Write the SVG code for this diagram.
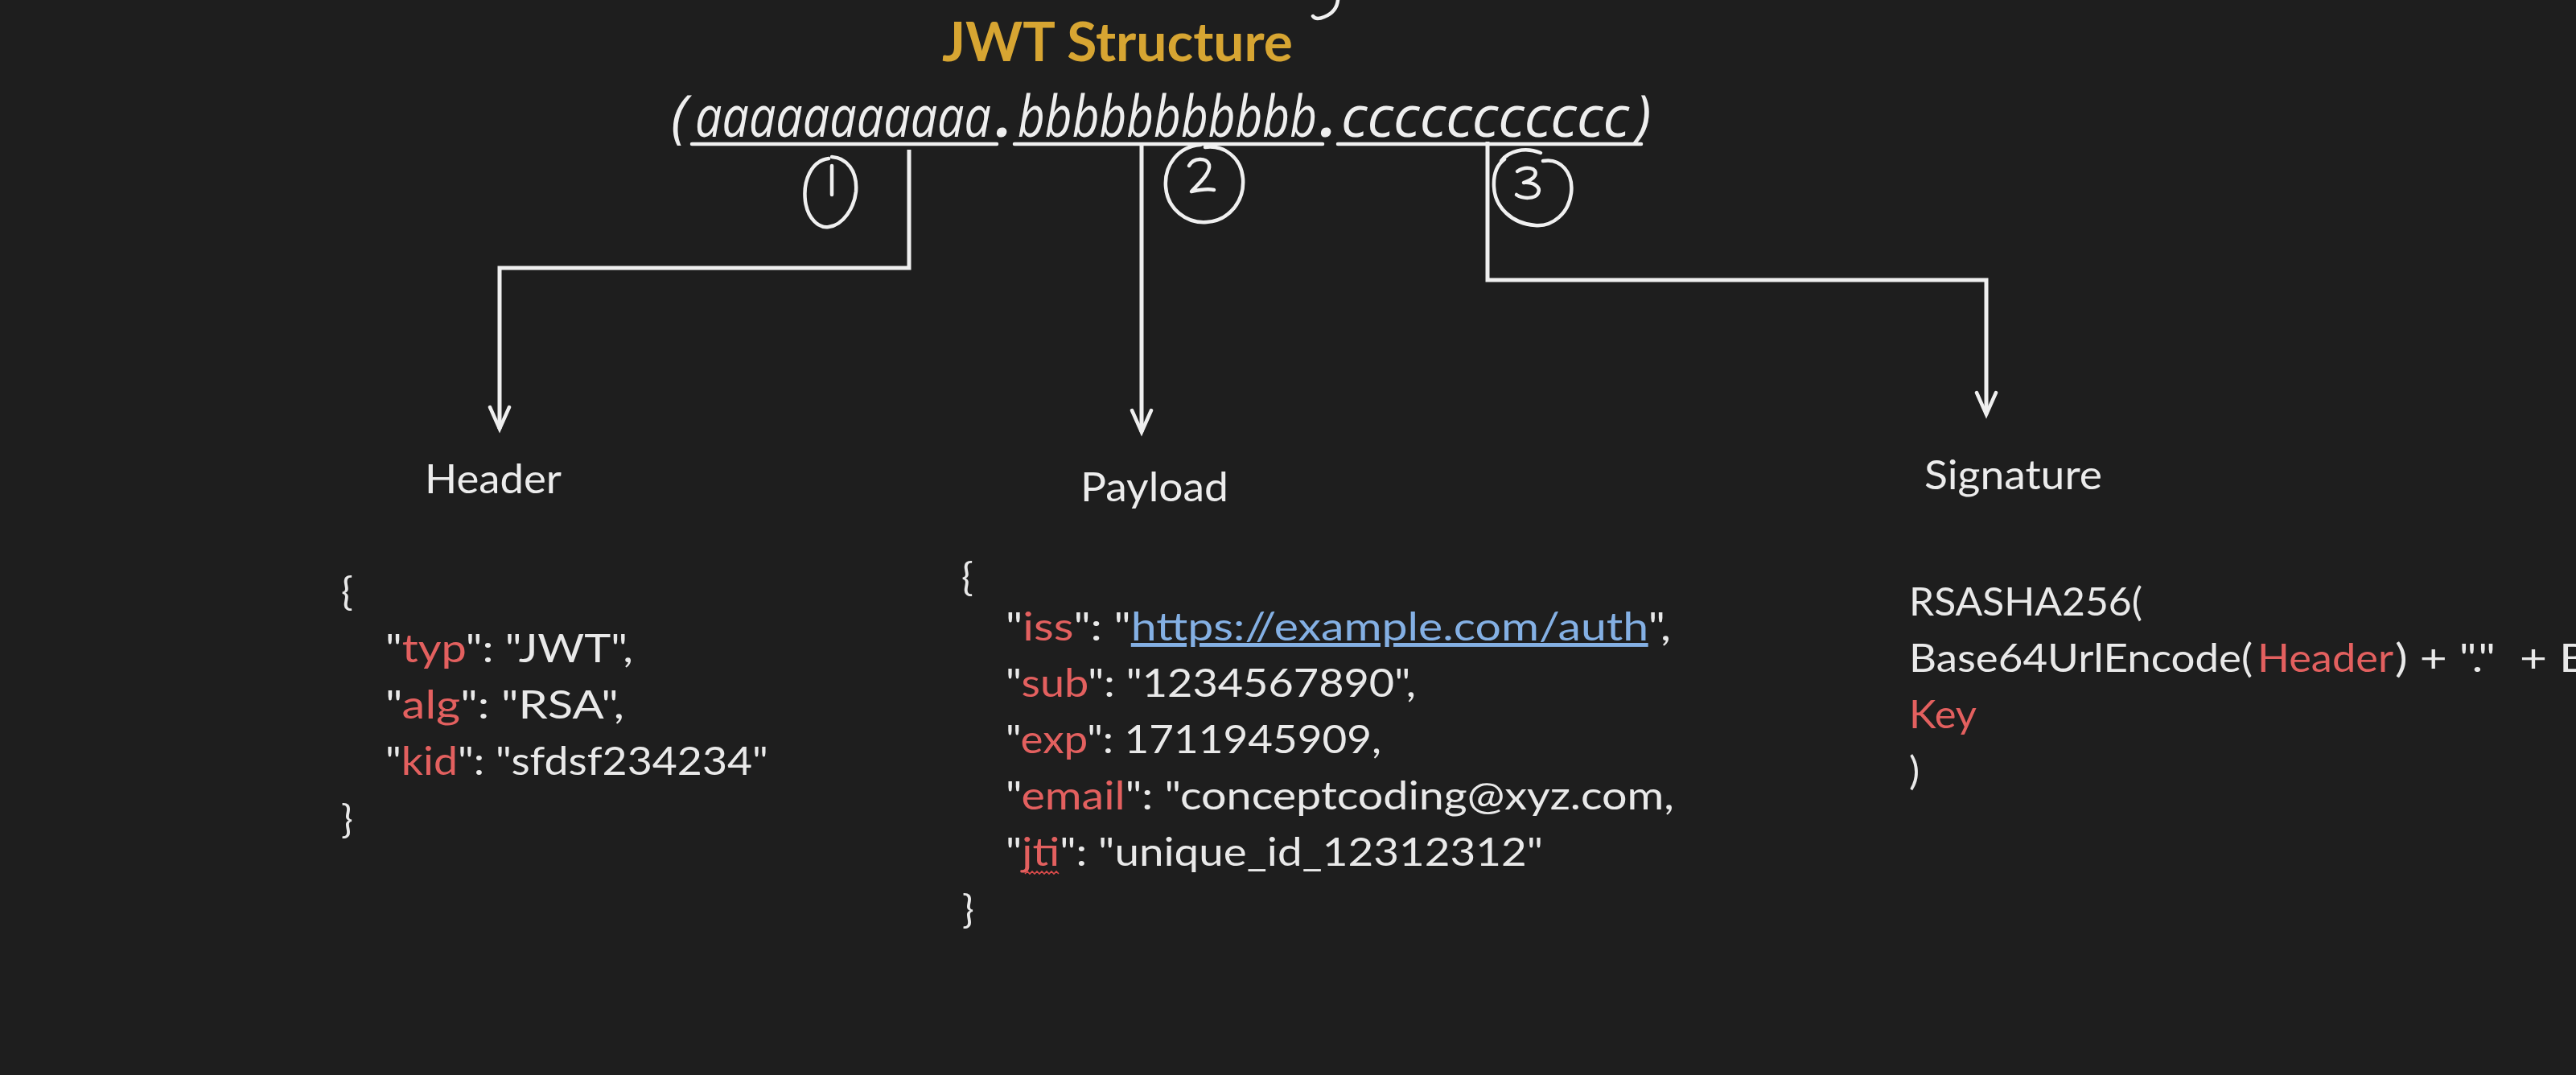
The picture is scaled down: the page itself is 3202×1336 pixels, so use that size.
<svg xmlns="http://www.w3.org/2000/svg" width="3202" height="1336" viewBox="0 0 3202 1336">
<defs>
<style>
.bg{fill:#1e1e1e}
.t{font-family:Lato,'Open Sans','Liberation Sans',sans-serif;fill:#e9e9e9}
.lbl{font-size:50px;fill:#ececec}
.code{font-size:49px}
.k{fill:#e3605f}
.url{fill:#84b0e4}
.title{font-family:Lato,'Open Sans',sans-serif;font-weight:bold;font-size:66px;fill:#d7a532}
.tok{font-family:'Open Sans','Noto Sans',sans-serif;font-style:italic;font-size:72px;fill:#eeeeee}
.ink{fill:none;stroke:#f0f0f0;stroke-width:4.5;stroke-linecap:round;stroke-linejoin:round}
.conn{fill:none;stroke:#efefef;stroke-width:5;stroke-linejoin:miter}
</style>
<marker id="arr" markerUnits="userSpaceOnUse" markerWidth="40" markerHeight="40" viewBox="-32 -20 40 40" refX="0" refY="0" orient="auto" overflow="visible">
<path d="M-27,-12 L0,0 L-27,12" fill="none" stroke="#efefef" stroke-width="4.5" stroke-linecap="round" stroke-linejoin="miter"/>
</marker>
</defs>
<rect class="bg" x="0" y="0" width="3202" height="1336"/>

<g id="title">
<text class="title" x="1171" y="76" textLength="436" lengthAdjust="spacingAndGlyphs">JWT Structure</text>
<path class="ink" d="M1663 0 C1662 10 1656 17 1646 21 C1639 24 1634 23 1632 20"/>
</g>

<g id="token">
<text class="tok" y="170"><tspan x="834">(</tspan><tspan x="864" textLength="368" lengthAdjust="spacingAndGlyphs">aaaaaaaaaaa</tspan><tspan x="1238" font-weight="bold">.</tspan><tspan x="1265" textLength="372" lengthAdjust="spacingAndGlyphs">bbbbbbbbbbb</tspan><tspan x="1641" font-weight="bold">.</tspan><tspan x="1667" textLength="358" lengthAdjust="spacingAndGlyphs">ccccccccccc</tspan><tspan x="2032">)</tspan></text>
<line class="ink" x1="860" y1="179" x2="1239" y2="179" stroke-width="4"/>
<line class="ink" x1="1261" y1="179" x2="1644" y2="179" stroke-width="4"/>
<line class="ink" x1="1663" y1="179" x2="2040" y2="179" stroke-width="4"/>
</g>

<g id="mark1">
<path class="ink" d="M1030 197 C1008 200 998 225 1001 250 C1004 272 1018 284 1030 282 C1048 280 1062 258 1064 238 C1066 212 1052 196 1034 195"/>
<path class="ink" d="M1034 206 L1034 242"/>
</g>
<g id="mark2">
<path class="ink" d="M1492 180 C1465 182 1447 205 1449 232 C1451 260 1475 278 1500 276 C1528 274 1547 250 1545 222 C1543 196 1522 180 1498 183"/>
<path class="ink" d="M1478 206 C1483 196 1500 195 1503 205 C1505 215 1490 228 1481 238 C1490 236 1500 234 1509 236"/>
</g>
<g id="mark3">
<path class="ink" d="M1866 200 C1875 188 1895 182 1915 190"/>
<path class="ink" d="M1918 200 C1940 196 1956 215 1953 240 C1950 265 1930 282 1908 280 C1880 278 1858 258 1857 232 C1856 213 1862 204 1870 198"/>
<path class="ink" d="M1886 213 C1896 206 1912 208 1908 218 C1905 224 1896 226 1894 227 C1905 226 1916 232 1912 240 C1908 248 1892 247 1885 242"/>
</g>

<g id="connectors">
<path class="conn" d="M1130 186 V333 H621 V533" marker-end="url(#arr)"/>
<path class="conn" d="M1419 181 V537" marker-end="url(#arr)"/>
<path class="conn" d="M1849 176 V348 H2469 V515" marker-end="url(#arr)"/>
</g>

<g id="header">
<text class="t lbl" x="528" y="613" textLength="170" lengthAdjust="spacingAndGlyphs">Header</text>
<text class="t code" x="424" y="752">{</text>
<text class="t code" x="479" y="823" textLength="308" lengthAdjust="spacingAndGlyphs">"<tspan class="k">typ</tspan>": "JWT",</text>
<text class="t code" x="479" y="893" textLength="297" lengthAdjust="spacingAndGlyphs">"<tspan class="k">alg</tspan>": "RSA",</text>
<text class="t code" x="479" y="963" textLength="476" lengthAdjust="spacingAndGlyphs">"<tspan class="k">kid</tspan>": "sfdsf234234"</text>
<text class="t code" x="424" y="1035">}</text>
</g>

<g id="payload">
<text class="t lbl" x="1343" y="623" textLength="184" lengthAdjust="spacingAndGlyphs">Payload</text>
<text class="t code" x="1195" y="734">{</text>
<text class="t code" x="1250" y="796" textLength="827" lengthAdjust="spacingAndGlyphs">"<tspan class="k">iss</tspan>": "<tspan class="url" text-decoration="underline">https://example.com/auth</tspan>",</text>
<text class="t code" x="1250" y="866" textLength="510" lengthAdjust="spacingAndGlyphs">"<tspan class="k">sub</tspan>": "1234567890",</text>
<text class="t code" x="1250" y="936" textLength="467" lengthAdjust="spacingAndGlyphs">"<tspan class="k">exp</tspan>": 1711945909,</text>
<text class="t code" x="1250" y="1006" textLength="831" lengthAdjust="spacingAndGlyphs">"<tspan class="k">email</tspan>": "conceptcoding@xyz.com,</text>
<text class="t code" x="1250" y="1076" textLength="668" lengthAdjust="spacingAndGlyphs">"<tspan class="k">jti</tspan>": "unique_id_12312312"</text>
<path d="M1274 1086 l3 -3 l3 3 l3 -3 l3 3 l3 -3 l3 3 l3 -3 l3 3 l3 -3 l3 3 l3 -3 l3 3 l3 -3 l3 3" fill="none" stroke="#d94a4a" stroke-width="1.6"/>
<text class="t code" x="1196" y="1147">}</text>
</g>

<g id="signature">
<text class="t lbl" x="2392" y="608" textLength="221" lengthAdjust="spacingAndGlyphs">Signature</text>
<text class="t code" x="2373" y="765" textLength="290" lengthAdjust="spacingAndGlyphs">RSASHA256(</text>
<text class="t code" y="835" xml:space="preserve"><tspan x="2373" textLength="427" lengthAdjust="spacingAndGlyphs">Base64UrlEncode(</tspan><tspan class="k" x="2806" textLength="169" lengthAdjust="spacingAndGlyphs">Header</tspan><tspan x="2977" textLength="242" lengthAdjust="spacingAndGlyphs">) + "."  + B</tspan></text>
<text class="t code k" x="2373" y="905" textLength="84" lengthAdjust="spacingAndGlyphs">Key</text>
<text class="t code" x="2373" y="975">)</text>
</g>
</svg>
